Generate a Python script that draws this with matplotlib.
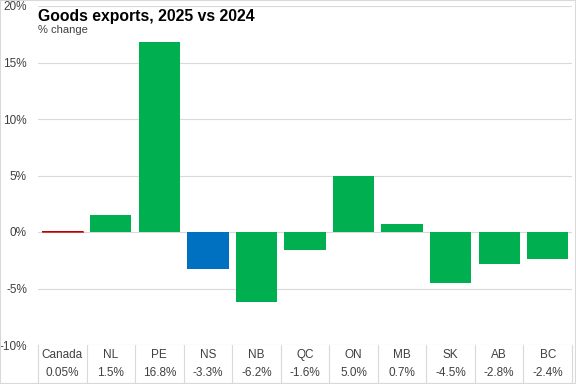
import matplotlib
matplotlib.use("Agg")
import matplotlib.pyplot as plt
from matplotlib.patches import Rectangle
import matplotlib.transforms as mtransforms

categories = ["Canada", "NL", "PE", "NS", "NB", "QC", "ON", "MB", "SK", "AB", "BC"]
values = [0.05, 1.5, 16.8, -3.3, -6.2, -1.6, 5.0, 0.7, -4.5, -2.8, -2.4]
value_labels = ["0.05%", "1.5%", "16.8%", "-3.3%", "-6.2%", "-1.6%", "5.0%", "0.7%", "-4.5%", "-2.8%", "-2.4%"]
yticks = [-10, -5, 0, 5, 10, 15, 20]
ytick_labels = ["-10%", "-5%", "0%", "5%", "10%", "15%", "20%"]

plt.rcParams['font.family'] = ['Liberation Sans', 'DejaVu Sans']

W, H = 576, 384
fig = plt.figure(figsize=(W / 100, H / 100), dpi=100)
left, right, top, bottom = 38, 572, 6, 345
ax = fig.add_axes([left / W, 1 - bottom / H, (right - left) / W, (bottom - top) / H])

colors = []
for c in categories:
    if c == "Canada":
        colors.append("#c00000")
    elif c == "NS":
        colors.append("#0070c0")
    else:
        colors.append("#00b050")

x = list(range(len(categories)))
ax.bar(x, values, width=0.85, color=colors, zorder=3)
ax.bar([0], [values[0]], width=0.85, color="none", edgecolor="#c00000", linewidth=0.5, zorder=4)

ax.set_xlim(-0.5, len(categories) - 0.5)
ax.set_ylim(-10, 20)
ax.set_yticks(yticks)
ax.set_yticklabels(ytick_labels)
ax.set_xticks([])
ax.tick_params(axis='y', length=0, pad=8, labelsize=8.5, colors="#404040")
for s in ax.spines.values():
    s.set_visible(False)
ax.grid(axis='y', color="#d9d9d9", linewidth=0.8, zorder=0)
ax.set_axisbelow(True)

# table below the axis
trans = mtransforms.blended_transform_factory(ax.transData, fig.transFigure)
ybot = 1 - 383 / H
ytop_tab = 1 - bottom / H
for i in range(len(categories) + 1):
    ax.plot([i - 0.5, i - 0.5], [ytop_tab, ybot], transform=trans, color="#d9d9d9",
            linewidth=0.8, clip_on=False)
ax.plot([-0.5, len(categories) - 0.5], [ybot, ybot], transform=trans, color="#d9d9d9",
        linewidth=0.8, clip_on=False)
for i, (c, v) in enumerate(zip(categories, value_labels)):
    ax.text(i, 1 - 355 / H, c, transform=trans, ha='center', va='center', fontsize=8.5, color="#404040")
    ax.text(i, 1 - 373 / H, v, transform=trans, ha='center', va='center', fontsize=8.5, color="#404040")

fig.text(38 / W, 1 - 16 / H, "Goods exports, 2025 vs 2024", fontsize=11.3, fontweight='bold',
         ha='left', va='center', color="black")
fig.text(38 / W, 1 - 30 / H, "% change", fontsize=8, ha='left', va='center', color="#404040")

fig.patches.append(Rectangle((0, 0), 1, 1, transform=fig.transFigure, fill=False,
                             edgecolor="#d9d9d9", linewidth=1.5))

fig.savefig("out.png", dpi=100)
